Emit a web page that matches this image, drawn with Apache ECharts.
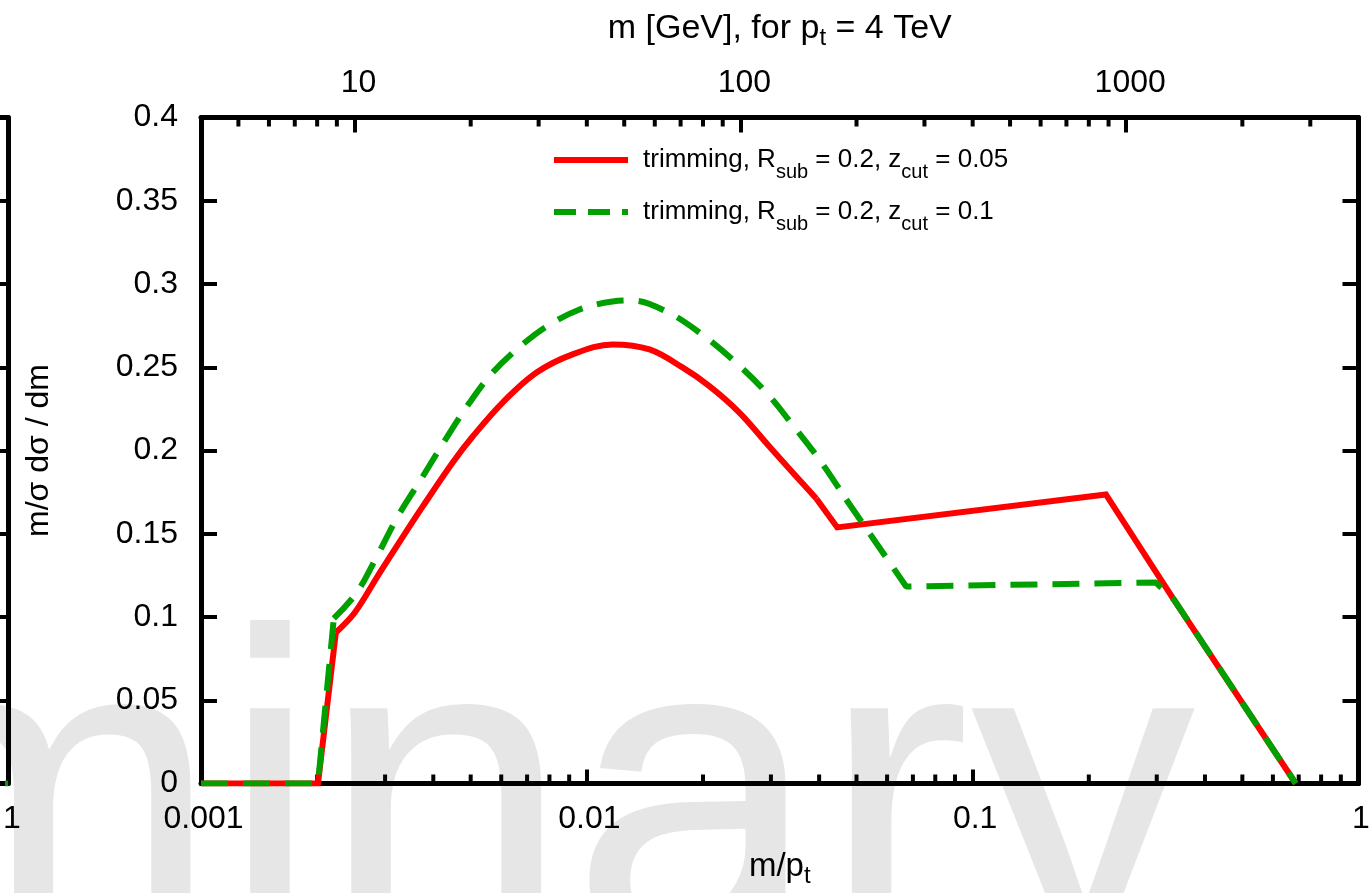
<!DOCTYPE html>
<html>
<head>
<meta charset="utf-8">
<script src="https://cdn.jsdelivr.net/npm/echarts@6/dist/echarts.min.js"></script>
<style>
html,body{margin:0;padding:0;background:#ffffff;}
#chart{width:1370px;height:893px;}
</style>
</head>
<body>
<div id="chart"></div>
<script>
// ---------------- data ----------------
const seriesNames = [
  'trimming, R_sub = 0.2, z_cut = 0.05',
  'trimming, R_sub = 0.2, z_cut = 0.1'
];
const xRed = [0.001, 0.00201, 0.002236, 0.002504, 0.002907, 0.003274, 0.003756, 0.004491, 0.00506, 0.00605,
  0.007408, 0.009183, 0.011656, 0.014533, 0.017692, 0.020777, 0.024855, 0.029717, 0.034894, 0.03932,
  0.044566, 0.22141, 0.32832, 0.68755];
const yRed = [0, 0, 0.0907, 0.1027, 0.1267, 0.1453, 0.1664, 0.1928, 0.2084, 0.2288,
  0.2468, 0.2577, 0.2637, 0.2607, 0.2499, 0.2387, 0.2228, 0.2024, 0.1844, 0.1712,
  0.1538, 0.1736, 0.1123, 0];
const xGreen = [0.001, 0.00201, 0.002209, 0.002534, 0.002855, 0.003236, 0.003756, 0.004334, 0.00497, 0.0057,
  0.006697, 0.007865, 0.009575, 0.011656, 0.013134, 0.016082, 0.019572, 0.02384, 0.02919, 0.034075,
  0.040048, 0.047018, 0.056234, 0.067233, 0.29843, 0.33225, 0.68755];
const yGreen = [0, 0, 0.0991, 0.1147, 0.1363, 0.1604, 0.1844, 0.2078, 0.2288, 0.2468,
  0.2622, 0.2745, 0.2847, 0.2895, 0.2901, 0.2835, 0.2709, 0.2547, 0.2348, 0.2156,
  0.1946, 0.1706, 0.1444, 0.1183, 0.1207, 0.1105, 0];
// index ranges of each curve: [first, last, smooth?]  (kinks stay sharp)
const redPieces = [[0, 2, false], [2, 19, true], [19, 23, false]];
const greenPieces = [[0, 2, false], [2, 21, true], [21, 26, false]];
// visible sliver of the neighbouring (cropped) panel on the left
const leftPanelX = [0.95, 1];
const leftPanelY = [0, 0];

const ptGeV = 4000;                       // m = x * pt
const xMin = 0.001, xMax = 1;
const yMin = 0, yMax = 0.4, yStep = 0.05;
const xMinorTicks = [0.002,0.003,0.004,0.005,0.006,0.007,0.008,0.009,
  0.02,0.03,0.04,0.05,0.06,0.07,0.08,0.09,
  0.2,0.3,0.4,0.5,0.6,0.7,0.8,0.9];
const topMajorLabelsGeV = [10, 100, 1000];
const topMinorTicksGeV = [5,6,7,8,9,20,30,40,50,60,70,80,90,200,300,400,500,600,700,800,900,2000,3000];

// ---------------- helpers ----------------
const FONT = 'Liberation Sans';
const zip = (a, b) => a.map((v, i) => [v, b[i]]);
const richName = {
  'trimming, R_sub = 0.2, z_cut = 0.05': '{f|trimming, R}{s|sub}{a| = 0.2, z}{s|cut}{a| = 0.05}',
  'trimming, R_sub = 0.2, z_cut = 0.1': '{f|trimming, R}{s|sub}{a| = 0.2, z}{s|cut}{a| = 0.1}'
};
function tickRenderer(dir) {
  return function (params, api) {
    const p = api.coord([api.value(0), api.value(1)]);
    return {
      type: 'line',
      shape: { x1: p[0], y1: p[1], x2: p[0], y2: p[1] + dir * 9 },
      style: { stroke: '#000', lineWidth: 4 }
    };
  };
}
function curveSeries(name, xs, ys, pieces, lineStyle, z) {
  const pts = zip(xs, ys);
  return pieces.map(([a, b, sm]) => ({
    name: name, type: 'line', xAxisIndex: 0, yAxisIndex: 0, z: z,
    symbol: 'none', showSymbol: false, smooth: sm ? 0.35 : false,
    lineStyle: lineStyle, itemStyle: { color: lineStyle.color },
    data: pts.slice(a, b + 1)
  }));
}

const chart = echarts.init(document.getElementById('chart'), null, { renderer: 'canvas' });
const axisLineStyle = { color: '#000', width: 5 };

const option = {
  animation: false,
  backgroundColor: '#ffffff',
  textStyle: { fontFamily: FONT },
  graphic: [{
    type: 'text',
    z: -10,
    silent: true,
    x: -1055,
    y: 822,
    style: {
      text: 'Preliminary',
      fontSize: 450,
      fontFamily: FONT,
      fill: '#e6e6e6',
      align: 'left',
      verticalAlign: 'middle',
      textAlign: 'left',
      textVerticalAlign: 'middle'
    }
  }],
  grid: [
    { left: 201, top: 117.5, width: 1157.5, height: 666, containLabel: false, outerBoundsMode: 'none' },
    { left: -400, top: 117.5, width: 408, height: 666, containLabel: false, outerBoundsMode: 'none' }
  ],
  xAxis: [
    {
      type: 'log', logBase: 10, gridIndex: 0, position: 'bottom', min: xMin, max: xMax,
      axisLine: { show: true, onZero: false, lineStyle: axisLineStyle },
      axisTick: { show: true, inside: true, length: 14, lineStyle: { color: '#000', width: 4 } },
      axisLabel: { color: '#000', fontSize: 32, fontFamily: FONT, margin: 20, padding: [0, 0, 0, 5] },
      splitLine: { show: false },
      name: '{a|m/p}{s|t}', nameLocation: 'middle', nameGap: 61,
      nameTextStyle: {
        color: '#000', fontFamily: FONT,
        rich: {
          a: { fontSize: 33, lineHeight: 44, color: '#000', fontFamily: FONT },
          s: { fontSize: 24, lineHeight: 22, verticalAlign: 'bottom', color: '#000', fontFamily: FONT }
        }
      }
    },
    {
      type: 'log', logBase: 10, gridIndex: 0, position: 'top', min: xMin * ptGeV, max: xMax * ptGeV,
      axisLine: { show: true, onZero: false, lineStyle: axisLineStyle },
      axisTick: { show: true, inside: true, length: 15, lineStyle: { color: '#000', width: 4 } },
      axisLabel: {
        color: '#000', fontSize: 32, fontFamily: FONT, margin: 18, padding: [0, 0, 0, 8],
        formatter: v => topMajorLabelsGeV.some(t => Math.abs(t - v) < 1e-6 * t) ? String(Math.round(v)) : ''
      },
      splitLine: { show: false },
      name: '{a|m [GeV], for p}{s|t}{a| = 4 TeV}', nameLocation: 'middle', nameGap: 67,
      nameTextStyle: {
        color: '#000', fontFamily: FONT,
        rich: {
          a: { fontSize: 34, lineHeight: 44, color: '#000', fontFamily: FONT },
          s: { fontSize: 24, lineHeight: 22, verticalAlign: 'bottom', color: '#000', fontFamily: FONT }
        }
      }
    },
    {
      type: 'log', logBase: 10, gridIndex: 1, position: 'bottom', min: xMin, max: xMax,
      axisLine: { show: true, onZero: false, lineStyle: axisLineStyle },
      axisTick: { show: false },
      axisLabel: { color: '#000', fontSize: 32, fontFamily: FONT, margin: 20, padding: [0, 0, 0, 8],
        formatter: v => (Math.abs(v - xMax) < 1e-9 ? String(xMax) : '') },
      splitLine: { show: false }
    },
    {
      type: 'log', logBase: 10, gridIndex: 1, position: 'top', min: xMin, max: xMax,
      axisLine: { show: true, onZero: false, lineStyle: axisLineStyle },
      axisTick: { show: false }, axisLabel: { show: false }, splitLine: { show: false }
    }
  ],
  yAxis: [
    {
      type: 'value', gridIndex: 0, position: 'left', min: yMin, max: yMax, interval: yStep,
      axisLine: { show: true, onZero: false, lineStyle: axisLineStyle },
      axisTick: { show: true, inside: true, length: 16, lineStyle: { color: '#000', width: 4 } },
      axisLabel: { color: '#000', fontSize: 32, fontFamily: FONT, margin: 23 },
      splitLine: { show: false },
      name: 'm/σ dσ / dm', nameLocation: 'middle', nameGap: 146, nameRotate: 90,
      nameTextStyle: { color: '#000', fontSize: 32, fontFamily: FONT }
    },
    {
      type: 'value', gridIndex: 0, position: 'right', min: yMin, max: yMax, interval: yStep,
      axisLine: { show: true, onZero: false, lineStyle: axisLineStyle },
      axisTick: { show: true, inside: true, length: 16, lineStyle: { color: '#000', width: 4 } },
      axisLabel: { show: false }, splitLine: { show: false }
    },
    {
      type: 'value', gridIndex: 1, position: 'right', min: yMin, max: yMax, interval: yStep,
      axisLine: { show: true, onZero: false, lineStyle: axisLineStyle },
      axisTick: { show: true, inside: true, length: 16, lineStyle: { color: '#000', width: 4 } },
      axisLabel: { show: false }, splitLine: { show: false }
    }
  ],
  legend: {
    orient: 'vertical', left: 551, top: 147, padding: 0, itemGap: 17,
    itemWidth: 74, itemHeight: 20,
    data: [
      { name: seriesNames[0], itemStyle: { opacity: 0 }, lineStyle: { width: 6, type: 'solid', color: '#ff0000' } },
      { name: seriesNames[1], itemStyle: { opacity: 0 }, lineStyle: { width: 6, type: [22, 12], color: '#00a000' } }
    ],
    formatter: name => richName[name],
    textStyle: {
      color: '#000', fontFamily: FONT,
      rich: {
        f: { fontSize: 26, lineHeight: 44, color: '#000', fontFamily: FONT, padding: [0, 0, 0, 10] },
        a: { fontSize: 26, lineHeight: 44, color: '#000', fontFamily: FONT },
        s: { fontSize: 20, lineHeight: 21, verticalAlign: 'bottom', color: '#000', fontFamily: FONT }
      }
    }
  },
  series: [
    {
      name: 'xMinorBottom', type: 'custom', xAxisIndex: 0, yAxisIndex: 0, z: 1, silent: true,
      renderItem: tickRenderer(-1), data: xMinorTicks.map(v => [v, yMin])
    },
    {
      name: 'xMinorTop', type: 'custom', xAxisIndex: 1, yAxisIndex: 0, z: 1, silent: true,
      renderItem: tickRenderer(1), data: topMinorTicksGeV.map(v => [v, yMax])
    },
    ...curveSeries(seriesNames[0], xRed, yRed, redPieces,
      { color: '#ff0000', width: 6, type: 'solid', join: 'miter' }, 3),
    ...curveSeries(seriesNames[1], xGreen, yGreen, greenPieces,
      { color: '#00a000', width: 6, type: [27, 15] }, 4),
    {
      name: 'leftPanel', type: 'line', xAxisIndex: 2, yAxisIndex: 2, z: 4,
      symbol: 'none', showSymbol: false,
      lineStyle: { color: '#00a000', width: 6 },
      data: zip(leftPanelX, leftPanelY)
    }
  ]
};
chart.setOption(option);
</script>
</body>
</html>
